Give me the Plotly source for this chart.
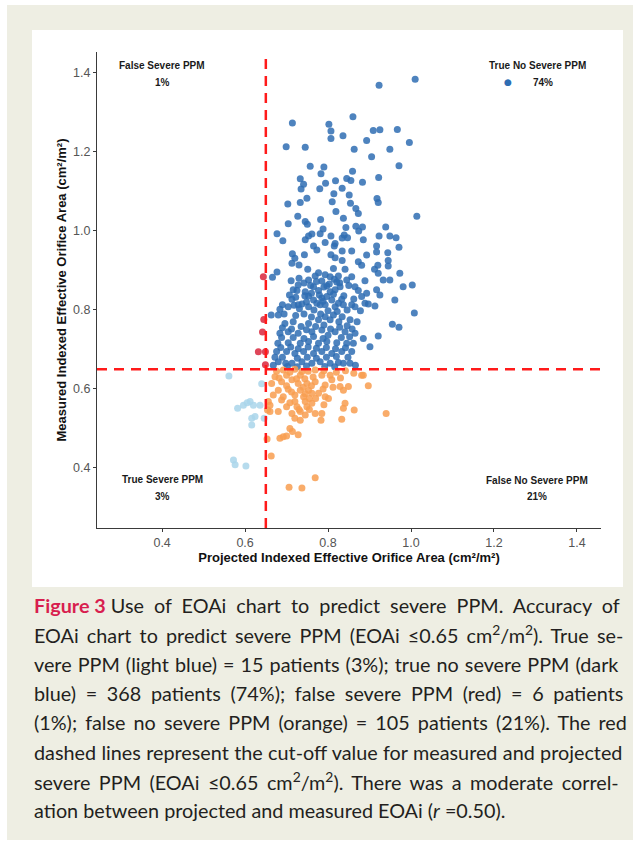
import plotly.graph_objects as go

# ---------------- data ----------------
CUTOFF = 0.65

# True no severe PPM (dark blue)
blue_x = [1.010, 0.923, 0.860, 0.714, 0.802, 0.807, 0.909, 0.925, 0.967, 0.836, 0.807, 0.893, 0.996, 0.699, 0.745, 0.863, 0.949, 0.905,
          0.757, 0.790, 0.971, 0.859, 0.783, 0.733, 0.818, 0.845, 0.855, 0.883, 0.922, 0.741, 0.794, 0.735, 0.780, 0.834, 0.814, 0.851,
          0.749, 0.918, 0.921, 0.703, 0.733, 0.810, 0.854, 0.867, 0.873, 0.819, 0.727, 1.014, 0.782, 0.837, 0.745, 0.750, 0.704, 0.843,
          0.867, 0.883, 0.874, 0.939, 0.788, 0.677, 0.781, 0.761, 0.753, 0.807, 0.839, 0.847, 0.834, 0.923, 0.949, 0.964, 0.691, 0.745,
          0.793, 0.817, 0.885,
          0.765, 0.815, 0.917, 0.971, 0.773, 0.714, 0.743, 0.807, 0.834, 0.857, 0.893, 0.917, 0.944, 0.720, 0.817, 0.834, 0.713, 0.730,
          0.873, 0.881, 0.920, 0.945, 0.945, 0.751, 0.813, 0.841, 0.912, 0.677, 0.666, 0.777, 0.793, 0.769, 0.805, 0.825, 0.857, 0.921,
          0.973, 0.711, 0.753, 0.785, 0.821, 0.845, 0.889, 0.933, 0.949, 0.728, 0.765, 0.797, 0.829, 0.865, 0.981, 1.003, 0.725, 0.745,
          0.777, 0.805, 0.817, 0.873, 0.893, 0.917, 0.713, 0.753, 0.765, 0.785, 0.809, 0.833, 0.881, 0.925, 0.961, 0.690, 0.737, 0.781,
          0.825, 0.857, 0.897,
          0.684, 0.680, 0.663, 0.704, 0.728, 0.753, 0.773, 0.793, 0.817, 0.837, 0.865, 0.889, 0.913, 1.008, 0.955, 0.971, 0.921, 0.696,
          0.716, 0.753, 0.777, 0.793, 0.813, 0.834, 0.853, 0.684, 0.704, 0.728, 0.761, 0.785, 0.817, 0.841, 0.865, 0.885, 0.901, 0.679,
          0.704, 0.733, 0.753, 0.777, 0.797, 0.821, 0.845, 0.861, 0.676, 0.700, 0.720, 0.741, 0.765, 0.785, 0.809, 0.833, 0.857, 0.680,
          0.698, 0.713, 0.737, 0.761, 0.781, 0.805, 0.825, 0.837, 0.853,
          0.716, 0.730, 0.742, 0.758, 0.772, 0.790, 0.803, 0.815, 0.828, 0.850, 0.707, 0.722, 0.744, 0.760, 0.779, 0.797, 0.813, 0.838,
          0.862, 0.718, 0.731, 0.748, 0.766, 0.788, 0.800, 0.822, 0.846, 0.878, 0.694, 0.722, 0.742, 0.760, 0.782, 0.805, 0.826, 0.846,
          0.870, 0.690, 0.712, 0.735, 0.748, 0.770, 0.790, 0.806, 0.828, 0.858, 0.688, 0.716, 0.742, 0.765, 0.788, 0.800, 0.832, 0.852,
          0.686, 0.710, 0.728, 0.752, 0.772, 0.796, 0.818, 0.842, 0.672, 0.690, 0.726, 0.750, 0.772, 0.796, 0.820, 0.848, 0.668, 0.702,
          0.726, 0.748, 0.792, 0.816, 0.866]
blue_y = [1.384, 1.369, 1.289, 1.273, 1.270, 1.253, 1.254, 1.256, 1.257, 1.241, 1.234, 1.229, 1.224, 1.213, 1.212, 1.207, 1.207, 1.188,
          1.164, 1.162, 1.165, 1.151, 1.145, 1.132, 1.127, 1.133, 1.128, 1.123, 1.135, 1.118, 1.121, 1.106, 1.107, 1.108, 1.094, 1.091,
          1.083, 1.082, 1.072, 1.068, 1.072, 1.074, 1.070, 1.057, 1.044, 1.049, 1.037, 1.037, 1.029, 1.032, 1.024, 1.017, 1.018, 1.009,
          1.012, 1.010, 1.000, 1.010, 1.005, 0.993, 0.993, 0.992, 0.987, 0.987, 0.990, 0.983, 0.982, 0.987, 0.987, 0.983, 0.975, 0.978,
          0.971, 0.968, 0.978,
          0.962, 0.962, 0.962, 0.959, 0.952, 0.942, 0.940, 0.940, 0.949, 0.949, 0.939, 0.947, 0.945, 0.931, 0.932, 0.925, 0.918, 0.914,
          0.922, 0.913, 0.913, 0.925, 0.911, 0.903, 0.905, 0.903, 0.903, 0.896, 0.883, 0.894, 0.889, 0.886, 0.884, 0.886, 0.884, 0.893,
          0.893, 0.874, 0.876, 0.873, 0.871, 0.876, 0.874, 0.876, 0.876, 0.863, 0.859, 0.861, 0.859, 0.859, 0.859, 0.863, 0.849, 0.846,
          0.849, 0.846, 0.851, 0.849, 0.842, 0.851, 0.827, 0.835, 0.825, 0.830, 0.825, 0.827, 0.834, 0.838, 0.825, 0.813, 0.815, 0.813,
          0.817, 0.813, 0.815,
          0.802, 0.787, 0.787, 0.808, 0.813, 0.808, 0.817, 0.813, 0.808, 0.813, 0.808, 0.817, 0.810, 0.792, 0.764, 0.756, 0.734, 0.766,
          0.770, 0.766, 0.775, 0.783, 0.787, 0.783, 0.775, 0.741, 0.745, 0.741, 0.745, 0.749, 0.745, 0.745, 0.741, 0.728, 0.707, 0.716,
          0.717, 0.716, 0.720, 0.716, 0.720, 0.717, 0.716, 0.716, 0.695, 0.695, 0.690, 0.695, 0.690, 0.695, 0.690, 0.695, 0.695, 0.669,
          0.665, 0.665, 0.669, 0.665, 0.669, 0.665, 0.667, 0.665, 0.665,
          0.851, 0.880, 0.868, 0.862, 0.872, 0.858, 0.866, 0.878, 0.869, 0.862, 0.838, 0.832, 0.836, 0.842, 0.838, 0.834, 0.840, 0.836,
          0.828, 0.812, 0.803, 0.820, 0.800, 0.822, 0.798, 0.796, 0.800, 0.798, 0.790, 0.786, 0.790, 0.782, 0.790, 0.775, 0.770, 0.760,
          0.770, 0.755, 0.752, 0.758, 0.750, 0.758, 0.762, 0.752, 0.756, 0.752, 0.730, 0.730, 0.728, 0.733, 0.728, 0.736, 0.730, 0.732,
          0.705, 0.706, 0.702, 0.706, 0.703, 0.705, 0.702, 0.704, 0.680, 0.680, 0.678, 0.680, 0.678, 0.680, 0.682, 0.680, 0.660, 0.657,
          0.656, 0.658, 0.657, 0.656, 0.660]

# False no severe PPM (orange)
orange_x = [0.692, 0.720, 0.737, 0.769, 0.672, 0.700, 0.733, 0.785, 0.809, 0.805, 0.881, 0.664, 0.688, 0.713, 0.728, 0.749, 0.769,
            0.793, 0.829, 0.849, 0.897, 0.680, 0.704, 0.733, 0.753, 0.761, 0.777, 0.837, 0.668, 0.692, 0.720, 0.741, 0.793, 0.688,
            0.720, 0.745, 0.761, 0.801, 0.841, 0.837, 0.660, 0.700, 0.725, 0.749, 0.660, 0.680, 0.713, 0.733, 0.745, 0.769, 0.785,
            0.863, 0.940, 0.720, 0.733, 0.783, 0.833, 0.708, 0.714, 0.684, 0.692, 0.700, 0.728, 0.653, 0.663, 0.769, 0.706, 0.737,
            0.885, 0.656, 0.654,
            0.676, 0.708, 0.752, 0.790, 0.820, 0.842, 0.862, 0.682, 0.724, 0.744, 0.764, 0.830, 0.700, 0.740, 0.760, 0.788, 0.812,
            0.712, 0.745, 0.770, 0.755, 0.708, 0.730, 0.755, 0.790]
orange_y = [0.648, 0.650, 0.644, 0.648, 0.631, 0.635, 0.635, 0.635, 0.623, 0.635, 0.635, 0.614, 0.618, 0.623, 0.614, 0.614, 0.618,
            0.610, 0.606, 0.606, 0.608, 0.597, 0.599, 0.597, 0.597, 0.589, 0.589, 0.597, 0.585, 0.580, 0.585, 0.580, 0.580, 0.572,
            0.568, 0.568, 0.564, 0.576, 0.564, 0.551, 0.559, 0.555, 0.555, 0.555, 0.543, 0.543, 0.538, 0.543, 0.534, 0.538, 0.538,
            0.547, 0.538, 0.526, 0.521, 0.521, 0.523, 0.500, 0.492, 0.475, 0.479, 0.481, 0.484, 0.473, 0.430, 0.375, 0.351, 0.349,
            0.635, 0.568, 0.547,
            0.645, 0.642, 0.645, 0.646, 0.642, 0.646, 0.640, 0.628, 0.626, 0.626, 0.630, 0.628, 0.608, 0.604, 0.608, 0.600, 0.604,
            0.592, 0.588, 0.576, 0.576, 0.565, 0.548, 0.548, 0.560]

# True severe PPM (light blue)
lightblue_x = [0.561, 0.640, 0.612, 0.596, 0.582, 0.620, 0.636, 0.646, 0.624, 0.616, 0.616, 0.572, 0.576, 0.602, 0.605]
lightblue_y = [0.633, 0.613, 0.568, 0.559, 0.551, 0.559, 0.559, 0.526, 0.530, 0.526, 0.509, 0.420, 0.408, 0.405, 0.565]

# False severe PPM (red)
red_x = [0.644, 0.645, 0.642, 0.632, 0.649, 0.649]
red_y = [0.884, 0.776, 0.744, 0.694, 0.694, 0.661]

tick_vals = [0.4, 0.6, 0.8, 1.0, 1.2, 1.4]

quadrants = [
    ("False Severe PPM", "1%"),
    ("True No Severe PPM", "74%"),
    ("True Severe PPM", "3%"),
    ("False No Severe PPM", "21%"),
]

caption_label = "Figure 3"
caption_lines = [
    "Use of EOAi chart to predict severe PPM. Accuracy of",
    "EOAi chart to predict severe PPM (EOAi ≤0.65 cm<sup>2</sup>/m<sup>2</sup>). True se-",
    "vere PPM (light blue) = 15 patients (3%); true no severe PPM (dark",
    "blue) = 368 patients (74%); false severe PPM (red) = 6 patients",
    "(1%); false no severe PPM (orange) = 105 patients (21%). The red",
    "dashed lines represent the cut-off value for measured and projected",
    "severe PPM (EOAi ≤0.65 cm<sup>2</sup>/m<sup>2</sup>). There was a moderate correl-",
    "ation between projected and measured EOAi (<i>r</i> =0.50).",
]
# extra inter-word spacing (px) to imitate the justified caption block
caption_word_spacing = [5.0, 3.1, 1.0, 4.6, 3.0, 0.3, 3.4, 0]

# ---------------- styling ----------------
W, H = 641, 845
ML, MR, MT, MB = 97, 40, 52, 317
PW, PH = W - ML - MR, H - MT - MB


def px_x(p):
    return (p - ML) / PW


def px_y(p):
    return (H - MB - p) / PH


C_BLUE = "#2F6DB3"
C_ORANGE = "#F89E50"
C_LIGHT = "#A9D5EA"
C_RED = "#D9263C"
FONT = "Liberation Sans, Arial, sans-serif"

fig = go.Figure()


def add_pts(xs, ys, color):
    fig.add_trace(go.Scatter(x=xs, y=ys, mode="markers",
                             marker=dict(size=7, color=color, opacity=0.85, line=dict(width=0)),
                             hoverinfo="x+y", showlegend=False))


add_pts(blue_x, blue_y, C_BLUE)
add_pts(orange_x, orange_y, C_ORANGE)
add_pts(lightblue_x, lightblue_y, C_LIGHT)
add_pts(red_x, red_y, C_RED)

shapes = [
    # beige page panel
    dict(type="rect", xref="paper", yref="paper", x0=px_x(7), x1=px_x(633), y0=px_y(840), y1=px_y(5),
         fillcolor="#EEEEE3", line=dict(width=0), layer="below"),
    # white chart panel
    dict(type="rect", xref="paper", yref="paper", x0=px_x(32), x1=px_x(623), y0=px_y(587), y1=px_y(30),
         fillcolor="white", line=dict(width=0), layer="below"),
    # cut-off lines
    dict(type="line", xref="x", yref="paper", x0=CUTOFF, x1=CUTOFF, y0=0, y1=1,
         line=dict(color="#FF1A1A", width=2.5, dash="10px,7px")),
    dict(type="line", xref="paper", yref="y", x0=0, x1=1, y0=CUTOFF, y1=CUTOFF,
         line=dict(color="#FF1A1A", width=2.5, dash="10px,7px")),
]

annotations = []
qpos = [(0.40, 1.420, 1.377), (1.304, 1.420, 1.377), (0.40, 0.370, 0.327), (1.304, 0.367, 0.327)]
for (title, pct), (qx, qy1, qy2) in zip(quadrants, qpos):
    annotations.append(dict(x=qx, y=qy1, xref="x", yref="y", text=f"<b>{title}</b>", showarrow=False,
                            font=dict(family=FONT, size=10, color="#1a1a1a")))
    annotations.append(dict(x=qx + (0.015 if pct == "74%" else 0), y=qy2, xref="x", yref="y",
                            text=f"<b>{pct}</b>", showarrow=False,
                            font=dict(family=FONT, size=10, color="#1a1a1a")))
# legend-like key dot next to 74%
annotations.append(dict(x=1.234, y=1.378, xref="x", yref="y", text="●", showarrow=False,
                        font=dict(family="DejaVu Sans", size=9, color=C_BLUE)))

line_y0, line_dy = 605, 29.3
for i, (t, ws) in enumerate(zip(caption_lines, caption_word_spacing)):
    txt = f"<span style='word-spacing:{ws}px'>{t}</span>" if ws else t
    if i == 0:
        txt = f"<span style='color:#D81E4F'><b>{caption_label}</b></span> " + txt
    annotations.append(dict(x=px_x(32), y=px_y(line_y0 + i * line_dy), xref="paper", yref="paper",
                            xanchor="left", yanchor="middle", text=txt, showarrow=False,
                            font=dict(family="Lato, sans-serif", size=19.8, color="#231F20")))

fig.update_layout(
    width=W, height=H,
    margin=dict(l=ML, r=MR, t=MT, b=MB, pad=0),
    paper_bgcolor="white", plot_bgcolor="rgba(0,0,0,0)",
    shapes=shapes, annotations=annotations, showlegend=False,
    font=dict(family=FONT),
)
axis_common = dict(showgrid=False, zeroline=False, showline=True, linecolor="#3a3a3a", linewidth=1.3,
                   ticks="outside", ticklen=3, tickwidth=1.1, tickcolor="#3a3a3a",
                   tickvals=tick_vals, tickformat=".1f",
                   tickfont=dict(family=FONT, size=12.5, color="#555555"))
fig.update_xaxes(range=[0.243, 1.458], **axis_common,
                 title=dict(text="<b>Projected Indexed Effective Orifice Area (cm²/m²)</b>",
                            font=dict(family=FONT, size=13, color="#111111"), standoff=3))
fig.update_yaxes(range=[0.248, 1.453], **axis_common,
                 title=dict(text="<b>Measured Indexed Effective Orifice Area (cm²/m²)</b>",
                            font=dict(family=FONT, size=13, color="#111111"), standoff=3))

fig.write_html("out.html", config={"displayModeBar": False},
               post_script="document.body.style.margin='0';")
